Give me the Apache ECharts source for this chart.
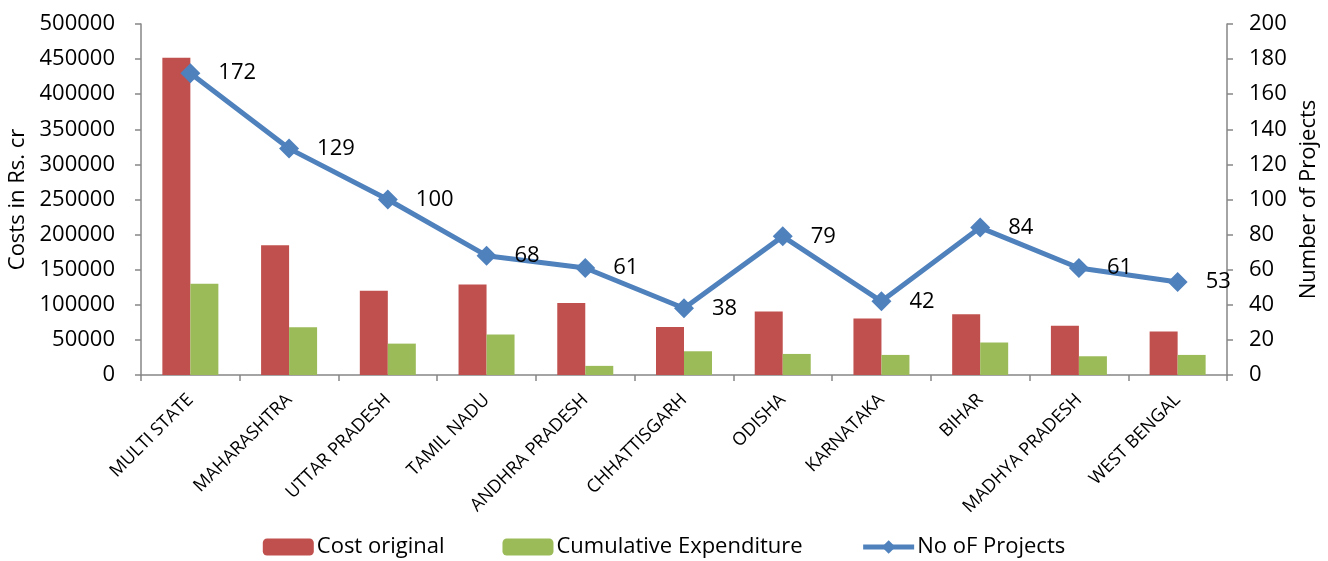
<!DOCTYPE html>
<html>
<head>
<meta charset="utf-8">
<script src="https://cdn.jsdelivr.net/npm/echarts@6/dist/echarts.min.js"></script>
<style>
html,body{margin:0;padding:0;background:#fff;}
#chart{width:1328px;height:561px;}
</style>
</head>
<body>
<div id="chart"></div>
<script>
const categories = ["MULTI STATE","MAHARASHTRA","UTTAR PRADESH","TAMIL NADU","ANDHRA PRADESH","CHHATTISGARH","ODISHA","KARNATAKA","BIHAR","MADHYA PRADESH","WEST BENGAL"];
const costOriginal = [452000,185000,120000,129000,102500,68500,90500,80500,86500,70000,62000];
const cumulativeExpenditure = [130000,68000,44700,57600,13000,33800,30000,28600,46200,26700,28600];
const noOfProjects = [172,129,100,68,61,38,79,42,84,61,53];
const leftTicks = {min:0,max:500000,interval:50000};
const rightTicks = {min:0,max:200,interval:20};

const FONT = "Open Sans";
const axisColor = "#868686";
const chart = echarts.init(document.getElementById('chart'), null, {renderer:'canvas'});
chart.setOption({
  animation:false,
  textStyle:{fontFamily:FONT,color:'#000'},
  grid:{left:141,right:101,top:24,bottom:186,containLabel:false,outerBoundsMode:'none'},
  legend:{
    bottom:-2,left:'center',
    itemWidth:51,itemHeight:17,itemGap:58,
    textStyle:{fontFamily:FONT,fontSize:22,color:'#000',padding:[0,0,0,-2]},
    data:['Cost original','Cumulative Expenditure',
      {name:'No oF Projects',lineStyle:{width:5,color:'#4F81BD'},itemStyle:{color:'#4F81BD'}}]
  },
  xAxis:{
    type:'category',data:categories,
    axisLine:{lineStyle:{color:axisColor,width:1.5}},
    axisTick:{show:true,alignWithLabel:false,length:6,lineStyle:{color:axisColor,width:1.5}},
    axisLabel:{rotate:45,interval:0,fontFamily:FONT,fontSize:18,color:'#000',margin:22}
  },
  yAxis:[{
    type:'value',min:leftTicks.min,max:leftTicks.max,interval:leftTicks.interval,
    name:'Costs in Rs. cr',nameLocation:'middle',nameGap:106,nameRotate:90,
    nameTextStyle:{fontFamily:FONT,fontSize:22,color:'#000'},
    axisLine:{show:true,lineStyle:{color:axisColor,width:1.5}},
    axisTick:{show:true,length:6,lineStyle:{color:axisColor,width:1.5}},
    splitLine:{show:false},
    axisLabel:{fontFamily:FONT,fontSize:22,color:'#000',margin:26,formatter:function(v){return String(v);}}
  },{
    type:'value',min:rightTicks.min,max:rightTicks.max,interval:rightTicks.interval,
    position:'right',
    name:'Number of Projects',nameLocation:'middle',nameGap:66,nameRotate:90,
    nameTextStyle:{fontFamily:FONT,fontSize:22,color:'#000'},
    axisLine:{show:true,lineStyle:{color:axisColor,width:1.5}},
    axisTick:{show:true,length:6,lineStyle:{color:axisColor,width:1.5}},
    splitLine:{show:false},
    axisLabel:{fontFamily:FONT,fontSize:22,color:'#000',margin:22}
  }],
  series:[{
    name:'Cost original',type:'bar',data:costOriginal,barWidth:28,barGap:'0%',
    itemStyle:{color:'#C0504D'}
  },{
    name:'Cumulative Expenditure',type:'bar',data:cumulativeExpenditure,barWidth:28,barGap:'0%',
    itemStyle:{color:'#9BBB59'}
  },{
    name:'No oF Projects',type:'line',yAxisIndex:1,data:noOfProjects,
    symbol:'diamond',symbolSize:20,z:5,
    lineStyle:{color:'#4F81BD',width:5},
    itemStyle:{color:'#4F81BD'},
    label:{show:true,position:'right',distance:18,fontFamily:FONT,fontSize:22,color:'#000'}
  }]
});
</script>
</body>
</html>
